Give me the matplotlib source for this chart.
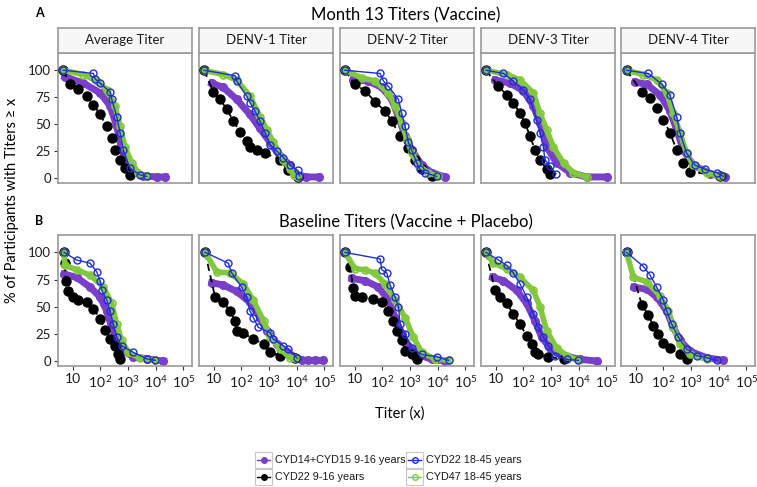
import matplotlib
matplotlib.use('Agg')
import matplotlib.pyplot as plt
import matplotlib as mpl
from matplotlib.patches import Rectangle
from matplotlib.lines import Line2D
from matplotlib.ticker import NullLocator
import numpy as np

mpl.rcParams['font.family'] = ['Lato', 'DejaVu Sans']
mpl.rcParams['mathtext.fontset'] = 'custom'
mpl.rcParams['mathtext.rm'] = 'Lato'

panels = ['Average Titer', 'DENV-1 Titer', 'DENV-2 Titer', 'DENV-3 Titer', 'DENV-4 Titer']
groups = ['CYD14+CYD15 9-16 years', 'CYD22 9-16 years', 'CYD22 18-45 years', 'CYD47 18-45 years']
row_titles = ['Month 13 Titers (Vaccine)', 'Baseline Titers (Vaccine + Placebo)']
xticks = [10, 100, 1000, 10000, 100000]
xtick_labels = ['10', r'$10^{\,2}$', r'$10^{3}$', r'$10^{4}$', r'$10^{5}$']
yticks = [0, 25, 50, 75, 100]

# log10(titer) and % of participants, one list per panel
purple_top_x = [[0.72, 1.39, 1.99, 2.35, 2.59, 2.77, 3.07, 3.55, 4.04, 4.34],
                [0.93, 1.35, 1.83, 2.31, 2.67, 3.04, 3.40, 3.76, 3.94, 4.33, 4.80],
                [0.95, 1.49, 1.98, 2.34, 2.58, 2.82, 3.06, 3.42, 3.78, 4.27],
                [0.98, 1.52, 2.00, 2.36, 2.60, 2.84, 3.20, 3.69, 4.29, 5.01],
                [0.98, 1.40, 1.88, 2.24, 2.48, 2.72, 3.08, 3.69, 4.23]]
purple_top_y = [[94, 88, 79, 67, 48, 26, 8, 2, 1, 1],
                [88, 84, 73, 59, 46, 33, 20, 12, 4, 1, 1],
                [91, 90, 84, 73, 57, 39, 26, 12, 5, 1],
                [91, 88, 81, 67, 51, 29, 14, 5, 1, 1],
                [89, 87, 77, 62, 45, 26, 12, 4, 0.6]]
black_top_x = [[0.66, 0.90, 1.20, 1.50, 1.75, 1.99, 2.23, 2.41, 2.53, 2.71, 2.89, 3.07],
               [0.65, 0.99, 1.23, 1.47, 1.71, 1.95, 2.19, 2.31, 2.55, 2.86, 3.40, 3.68, 4.05],
               [0.65, 1.01, 1.37, 1.73, 2.10, 2.34, 2.64, 2.94, 3.18, 3.42, 3.78],
               [0.65, 1.10, 1.40, 1.64, 1.88, 2.06, 2.24, 2.42, 2.60, 2.84, 2.96],
               [0.67, 1.22, 1.52, 1.76, 2.00, 2.24, 2.48, 2.72, 2.96, 4.05]]
black_top_y = [[100, 87, 83, 76, 68, 59, 48, 37, 26, 17, 9, 3],
               [100, 80, 73, 64, 53, 43, 34, 29, 26, 23, 17, 7, 1],
               [100, 87, 81, 71, 62, 53, 39, 28, 17, 8, 1.5],
               [100, 85, 77, 70, 60, 51, 39, 26, 17, 8, 4],
               [100, 80, 74, 65, 54, 42, 26, 14, 6, 2]]
blue_top_x = [[0.66, 1.75, 1.81, 1.99, 2.35, 2.41, 2.59, 2.71, 2.83, 3.07, 3.43, 3.67],
              [0.65, 1.77, 1.83, 2.19, 2.31, 2.49, 2.67, 2.86, 3.04, 3.28, 3.52, 3.75, 4.04, 4.10],
              [0.65, 1.92, 2.04, 2.22, 2.58, 2.70, 2.82, 2.94, 3.06, 3.24, 3.36, 3.54, 3.96],
              [0.65, 1.28, 1.64, 2.00, 2.24, 2.48, 2.60, 2.72, 2.78, 2.96, 3.18],
              [0.67, 1.46, 1.94, 2.24, 2.48, 2.60, 2.84, 3.14, 3.51, 3.93, 4.17]]
blue_top_y = [[100, 97, 92, 88, 80, 73, 57, 42, 26, 9, 3, 1.5],
              [100, 95, 90, 76, 70, 62, 53, 42, 31, 25, 19, 12, 7, 2],
              [100, 97, 90, 85, 73, 60, 48, 33, 26, 14, 8, 5, 1.5],
              [100, 97, 90, 82, 73, 54, 42, 29, 17, 11, 4],
              [100, 97, 87, 77, 57, 42, 23, 12, 8, 5, 1.5]]
green_top_x = [[0.66, 1.39, 1.87, 2.23, 2.53, 2.71, 2.89, 3.13, 3.37, 3.67],
               [0.65, 1.35, 1.83, 2.31, 2.67, 2.92, 3.16, 3.52, 3.76, 3.90, 4.05],
               [0.65, 1.25, 1.73, 2.22, 2.46, 2.70, 2.88, 3.06, 3.30, 3.66, 4.02],
               [0.65, 1.40, 1.88, 2.36, 2.60, 2.84, 3.08, 3.45, 3.81, 4.29],
               [0.67, 1.28, 1.76, 2.12, 2.36, 2.60, 2.84, 3.08, 3.57, 4.05]]
green_top_y = [[100, 96, 90, 82, 67, 48, 29, 14, 5, 1.5],
               [100, 96, 91, 76, 57, 45, 33, 17, 8, 3, 1],
               [100, 93, 90, 79, 67, 51, 36, 23, 12, 5, 1.5],
               [100, 96, 91, 79, 60, 45, 29, 14, 5, 1],
               [100, 96, 91, 79, 60, 42, 23, 12, 5, 1.5]]

purple_bot_x = [[0.69, 1.14, 1.63, 1.99, 2.23, 2.41, 2.59, 2.83, 3.19, 3.67, 4.28],
                [0.93, 1.35, 1.83, 2.31, 2.67, 2.92, 3.28, 3.64, 4.18, 4.40, 4.66, 4.95],
                [0.89, 1.37, 1.86, 2.22, 2.46, 2.70, 2.94, 3.30, 3.78, 4.27],
                [0.89, 1.28, 1.76, 2.12, 2.42, 2.66, 2.96, 3.45, 4.05, 4.65],
                [0.94, 1.40, 1.76, 2.12, 2.36, 2.60, 2.96, 3.57, 4.17]]
purple_bot_y = [[80, 77, 68, 59, 46, 31, 19, 9, 4, 2, 0],
                [72, 70, 64, 54, 40, 28, 16, 8, 0.6, 0.6, 0.6, 0.6],
                [76, 74, 68, 56, 40, 25, 14, 6, 1.5, 0],
                [77, 74, 65, 53, 37, 22, 12, 5, 1.5, 0],
                [68, 66, 59, 46, 31, 19, 9, 3, 0.6]]
black_bot_x = [[0.69, 0.72, 0.75, 0.84, 1.02, 1.20, 1.50, 1.75, 1.99, 2.17, 2.35, 2.53, 2.65, 2.71],
               [0.69, 1.05, 1.35, 1.59, 1.77, 1.83, 2.07, 2.43, 2.80, 3.04, 3.40, 3.94],
               [0.65, 0.83, 0.95, 1.01, 1.25, 1.67, 1.98, 2.22, 2.40, 2.52, 2.70, 2.82, 3.06, 3.24],
               [0.65, 0.98, 1.16, 1.40, 1.64, 1.88, 2.12, 2.30, 2.42, 2.54, 2.90, 3.45],
               [0.67, 1.22, 1.46, 1.64, 1.82, 2.00, 2.24, 2.60, 2.84]]
black_bot_y = [[100, 90, 74, 64, 59, 56, 54, 48, 39, 29, 20, 14, 6, 1.5],
               [100, 59, 54, 46, 37, 28, 26, 20, 16, 8, 5, 3],
               [100, 87, 67, 60, 59, 57, 54, 46, 37, 28, 19, 9, 6, 2],
               [100, 65, 59, 53, 43, 34, 23, 16, 8, 6, 4, 1.5],
               [100, 52, 42, 32, 25, 17, 12, 6, 1.5]]
blue_bot_x = [[0.69, 1.14, 1.63, 1.87, 1.99, 2.05, 2.23, 2.35, 2.47, 2.59, 2.77, 3.19, 3.67, 3.98],
              [0.69, 1.53, 1.65, 2.01, 2.19, 2.31, 2.43, 2.61, 3.04, 3.16, 3.52, 3.70, 4.00],
              [0.65, 1.92, 1.98, 2.16, 2.28, 2.46, 2.58, 2.64, 2.82, 3.06, 3.42, 3.96, 4.39],
              [0.65, 1.10, 1.40, 1.64, 1.88, 2.12, 2.36, 2.54, 2.72, 2.90, 3.14, 3.57, 3.99],
              [0.67, 1.28, 1.52, 1.76, 2.00, 2.12, 2.30, 2.54, 2.84, 3.20, 3.57, 3.93]]
blue_bot_y = [[100, 93, 90, 82, 74, 65, 56, 46, 34, 22, 14, 8, 2, 0.6],
              [100, 90, 81, 68, 59, 46, 40, 31, 26, 20, 14, 11, 3],
              [100, 94, 84, 81, 70, 59, 50, 34, 25, 12, 6, 4, 0.6],
              [100, 93, 88, 81, 71, 59, 43, 31, 22, 14, 5, 1.5, 0.6],
              [100, 87, 79, 68, 56, 46, 34, 22, 11, 5, 3, 0.6]]
green_bot_x = [[0.69, 0.72, 1.14, 1.63, 2.11, 2.41, 2.59, 2.77, 3.01, 3.43, 3.98],
               [0.69, 1.11, 1.59, 2.07, 2.43, 2.80, 3.04, 3.40, 3.76, 3.94],
               [0.65, 1.01, 1.37, 1.73, 2.10, 2.46, 2.82, 3.12, 3.42, 3.90, 4.39],
               [0.65, 0.92, 1.40, 1.88, 2.36, 2.60, 2.84, 3.20, 3.57, 3.99],
               [0.67, 0.92, 1.40, 1.88, 2.18, 2.36, 2.60, 2.96, 3.57]]
green_bot_y = [[100, 88, 84, 79, 68, 53, 34, 19, 8, 2.5, 0.6],
               [100, 82, 81, 71, 56, 37, 22, 11, 3, 2.5],
               [100, 85, 84, 81, 71, 56, 40, 22, 8, 2, 0.6],
               [100, 90, 85, 77, 65, 50, 28, 12, 5, 0.6],
               [100, 77, 73, 60, 46, 31, 16, 6, 1.5]]

purple = '#7a3fc8'
black = '#000000'
blue = '#1f2fd6'
green = '#82c83c'
frame_col = '#9a9a9a'

styles = [
    dict(color=purple, ls='-', lw=5, marker='o', ms=5.5, mfc=purple, mec=purple, zorder=2),
    dict(color=black, ls=(0, (4, 2.5)), lw=1.3, marker='o', ms=6.5, mfc=black, mec=black, zorder=3),
    dict(color=blue, ls='-', lw=1.0, marker='o', ms=5, mfc='none', mec=blue, mew=1.0, zorder=5),
    dict(color=green, ls='-', lw=4, marker='o', ms=5, mfc='none', mec=green, mew=1.2, zorder=4),
]

rows = [
    [(purple_top_x, purple_top_y), (black_top_x, black_top_y),
     (blue_top_x, blue_top_y), (green_top_x, green_top_y)],
    [(purple_bot_x, purple_bot_y), (black_bot_x, black_bot_y),
     (blue_bot_x, blue_bot_y), (green_bot_x, green_bot_y)],
]

W, H = 757, 487
fig = plt.figure(figsize=(W / 100, H / 100), dpi=100)


def fx(px):
    return px / W


def fy(py):
    return 1 - py / H


panel_left = [58, 199, 340, 481, 621]
panel_w = 134
row_top = [53, 235]
row_bot = [183, 366]

for r in range(2):
    for c in range(5):
        L = panel_left[c]
        ax = fig.add_axes([fx(L), fy(row_bot[r]), panel_w / W, (row_bot[r] - row_top[r]) / H])
        for (xs, ys), st in zip(rows[r], styles):
            ax.plot(10 ** np.array(xs[c]), ys[c], **st)
        ax.set_xscale('log')
        ax.set_xlim(10 ** 0.47, 10 ** 5.31)
        ax.set_ylim(-4.6, 116)
        ax.xaxis.set_minor_locator(NullLocator())
        for s in ax.spines.values():
            s.set_color(frame_col)
            s.set_linewidth(1.2)
        ax.tick_params(colors='#333333', length=3, width=0.8, labelsize=9.5,
                       labelcolor='#1a1a1a', pad=2)
        ax.set_yticks(yticks)
        if c > 0:
            ax.tick_params(axis='y', left=False, labelleft=False)
        if r == 0:
            ax.tick_params(axis='x', bottom=False, labelbottom=False)
            # strip
            sax = fig.add_axes([fx(L), fy(53), panel_w / W, 25 / H])
            sax.set_xticks([])
            sax.set_yticks([])
            sax.set_facecolor('#f7f7f7')
            for s in sax.spines.values():
                s.set_color(frame_col)
                s.set_linewidth(1.2)
            sax.text(0.5, 0.5, panels[c], ha='center', va='center', fontsize=9.5,
                     color='#1a1a1a', transform=sax.transAxes)
        else:
            ax.set_xticks(xticks)
            ax.set_xticklabels(xtick_labels, fontsize=10)

fig.text(fx(406), fy(15), row_titles[0], ha='center', va='center', fontsize=12)
fig.text(fx(406), fy(222), row_titles[1], ha='center', va='center', fontsize=12)
fig.text(fx(39), fy(13), 'A', ha='center', va='center', fontsize=9, fontweight='bold')
fig.text(fx(39), fy(221), 'B', ha='center', va='center', fontsize=9, fontweight='bold')
fig.text(fx(12), fy(200), '% of Participants with Titers \u2265 x', rotation=90,
         ha='center', va='center', fontsize=10.5)
fig.text(fx(400), fy(414), 'Titer (x)', ha='center', va='center', fontsize=10.5)

# legend with boxed keys
lax = fig.add_axes([0, 0, 1, 1])
lax.set_xlim(0, W)
lax.set_ylim(H, 0)
lax.axis('off')
key_pos = [(255, 452), (255, 469), (406, 452), (406, 469)]
for (kx, ky), st, lab in zip(key_pos, styles, groups):
    lax.add_patch(Rectangle((kx, ky), 17, 16, fill=False, ec='#c8c8c8', lw=0.8))
    lax.add_line(Line2D([kx + 2, kx + 15], [ky + 8, ky + 8], color=st['color'], lw=1.0))
    lax.plot([kx + 8.5], [ky + 8], marker='o', ms=4, mfc=st['mfc'], mec=st['mec'], mew=1.0)
    lax.text(kx + 20, ky + 8, lab, ha='left', va='center', fontsize=7.8,
             family=['Liberation Sans', 'DejaVu Sans'], color='#1a1a1a')

fig.savefig('out.png', dpi=100)
